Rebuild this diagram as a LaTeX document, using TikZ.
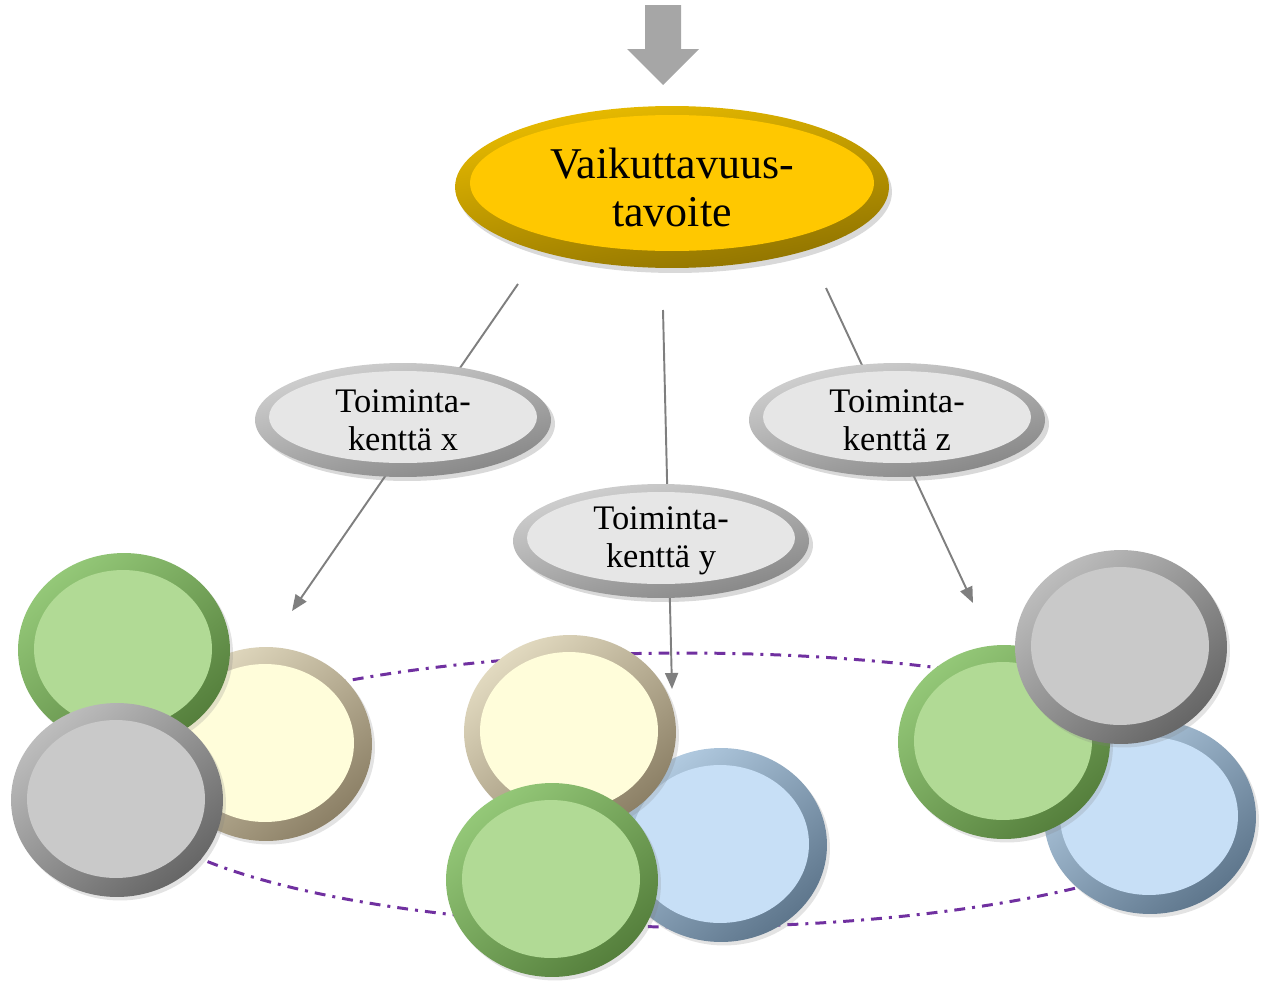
\documentclass[tikz,border=0pt]{standalone}
\usepackage{fontspec}
\setmainfont{Liberation Serif}
\usetikzlibrary{shapes.geometric,arrows.meta,shadows}
\definecolor{greenL}{HTML}{94C878}
\definecolor{greenD}{HTML}{557F3C}
\definecolor{greenF}{HTML}{B1DA95}
\definecolor{creamL}{HTML}{E2DAC0}
\definecolor{creamD}{HTML}{8C8066}
\definecolor{creamF}{HTML}{FFFDDA}
\definecolor{grayL}{HTML}{BDBDBD}
\definecolor{grayD}{HTML}{666666}
\definecolor{grayF}{HTML}{C9C9C9}
\definecolor{blueL}{HTML}{B3CCE2}
\definecolor{blueD}{HTML}{5E768C}
\definecolor{blueF}{HTML}{C7DFF6}
\definecolor{goldL}{HTML}{EBBD00}
\definecolor{goldD}{HTML}{8E7200}
\definecolor{goldF}{HTML}{FFC800}
\definecolor{fieldL}{HTML}{D2D2D2}
\definecolor{fieldD}{HTML}{858585}
\definecolor{fieldF}{HTML}{E6E6E6}
\definecolor{connGray}{HTML}{7F7F7F}
\definecolor{arrowGray}{HTML}{A6A6A6}
\definecolor{orbitPurple}{HTML}{7030A0}
\begin{document}
\begin{tikzpicture}[x=0.02cm,y=-0.02cm,
  disc/.style n args={3}{ellipse, minimum width=4.24cm, minimum height=3.88cm,
    inner sep=0pt, top color=#1, bottom color=#2, shading angle=40,
    drop shadow={opacity=0.22, shadow xshift=0.06cm, shadow yshift=-0.07cm},
    path picture={\fill[#3] ([xshift=-0.02cm,yshift=0.02cm]path picture bounding box.center)
      ellipse [x radius=1.78cm, y radius=1.58cm];}},
  greendisc/.style={disc={greenL}{greenD}{greenF}},
  creamdisc/.style={disc={creamL}{creamD}{creamF}},
  graydisc/.style={disc={grayL}{grayD}{grayF}},
  bluedisc/.style={disc={blueL}{blueD}{blueF}},
  field/.style={ellipse, minimum width=5.92cm, minimum height=2.28cm, inner sep=0pt,
    top color=fieldL, bottom color=fieldD, shading angle=15,
    drop shadow={opacity=0.3, shadow xshift=0.08cm, shadow yshift=-0.08cm},
    path picture={\fill[fieldF] ([yshift=0.06cm]path picture bounding box.center)
      ellipse [x radius=2.68cm, y radius=0.92cm];},
    align=center, font=\fontsize{19.6}{21.6}\selectfont},
  goal/.style={ellipse, minimum width=8.68cm, minimum height=3.24cm, inner sep=0pt,
    top color=goldL, bottom color=goldD, shading angle=10,
    drop shadow={opacity=0.3, shadow xshift=0.06cm, shadow yshift=-0.1cm},
    path picture={\fill[goldF] ([yshift=0.08cm]path picture bounding box.center)
      ellipse [x radius=4.04cm, y radius=1.36cm];},
    align=center, font=\fontsize{25}{27.3}\selectfont},
  conn/.style={draw=connGray, line width=1.1pt,
    -{Triangle[length=0.32cm,width=0.26cm]}},
  orbit/.style={ellipse, draw=orbitPurple, line width=1.7pt,
    dash pattern=on 6.2pt off 4pt on 1.7pt off 4pt,
    minimum width=22.4cm, minimum height=5.48cm, inner sep=0pt}
]
\useasboundingbox (0,0) rectangle (1268,987);

% dash-dot orbit behind everything
\node[orbit] (orbit) at (685,790) {};

% left group
\node[creamdisc] (lcream) at (266,744) {};
\node[greendisc] (lgreen) at (124,650) {};
\node[graydisc]  (lgray)  at (117,800) {};

% middle group
\node[bluedisc]  (mblue)  at (721,845) {};
\node[creamdisc] (mcream) at (570,732) {};
\node[greendisc] (mgreen) at (552,880) {};

% right group
\node[bluedisc]  (rblue)  at (1150,817) {};
\node[greendisc] (rgreen) at (1004,742) {};
\node[graydisc]  (rgray)  at (1121,647) {};

% connectors (behind the field ellipses)
\coordinate (sx) at (518,284);
\coordinate (ex) at (292,611);
\coordinate (sy) at (663,310);
\coordinate (ey) at (672,689);
\coordinate (sz) at (826,288);
\coordinate (ez) at (973,603);
\draw[conn] (sx) -- (ex);
\draw[conn] (sy) -- (ey);
\draw[conn] (sz) -- (ez);

% field ellipses
\node[field] (fx) at (403,420) {Toiminta-\\kenttä x};
\node[field] (fz) at (897,420) {Toiminta-\\kenttä z};
\node[field] (fy) at (661,541) {Toiminta-\\kenttä y};

% goal ellipse
\node[goal] (goal) at (672,187) {Vaikuttavuus-\\tavoite};

% top block arrow
\fill[arrowGray] (645,5) -- (681,5) -- (681,49) -- (699,49) -- (663,85)
  -- (627,49) -- (645,49) -- cycle;
\end{tikzpicture}
\end{document}
